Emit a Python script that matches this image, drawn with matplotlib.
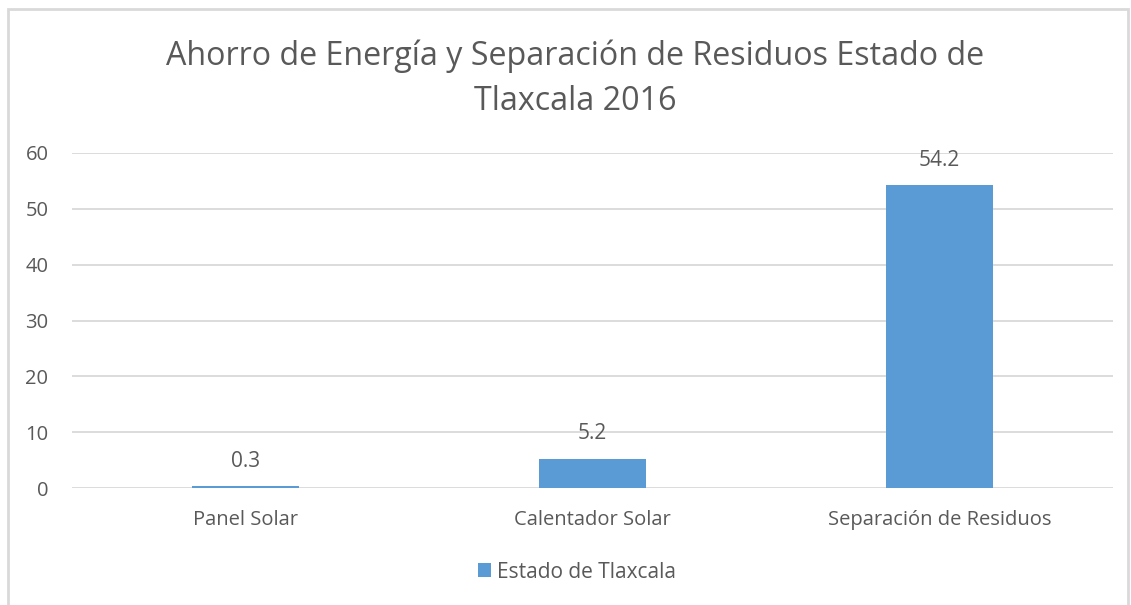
import matplotlib.pyplot as plt
from matplotlib.patches import Rectangle

categories = ['Panel Solar', 'Calentador Solar', 'Separación de Residuos']
values = [0.3, 5.2, 54.2]
series_name = 'Estado de Tlaxcala'
title = 'Ahorro de Energía y Separación de Residuos Estado de\nTlaxcala 2016'
yticks = [0, 10, 20, 30, 40, 50, 60]

text_color = '#595959'
bar_color = '#5B9BD5'
grid_color = '#D9D9D9'

plt.rcParams['font.family'] = ['Open Sans', 'DejaVu Sans']

fig = plt.figure(figsize=(11.31, 6.05), dpi=100)
ax = fig.add_axes([72 / 1131, 1 - 488 / 605, (1113 - 72) / 1131, (488 - 153) / 605])

x = range(len(categories))
bars = ax.bar(x, values, width=0.31, color=bar_color, label=series_name, zorder=3)

for b, v in zip(bars, values):
    ax.annotate(f'{v}', (b.get_x() + b.get_width() / 2, v), xytext=(0, 18),
                textcoords='offset points', ha='center', va='center',
                fontsize=15, color=text_color)

ax.set_xlim(-0.5, len(categories) - 0.5)
ax.set_ylim(0, 60)
ax.set_yticks(yticks)
ax.set_xticks(list(x))
ax.set_xticklabels(categories)
ax.tick_params(axis='both', length=0, labelsize=14.5, colors=text_color)
ax.tick_params(axis='x', pad=16)
ax.tick_params(axis='y', pad=17)
ax.grid(axis='y', color=grid_color, linewidth=1.3, zorder=0)
for s in ax.spines.values():
    s.set_visible(False)

fig.text(575 / 1131, 1 - 79 / 605, title, ha='center', va='center',
         fontsize=23.2, color=text_color, linespacing=1.5)

fig.legend(loc='center', bbox_to_anchor=(577 / 1131, 1 - 572 / 605), frameon=False,
           fontsize=15, labelcolor=text_color, handlelength=0.65, handleheight=0.65,
           handletextpad=0.3)

fig.patches.append(Rectangle((8 / 1131, -0.05), (1128 - 8) / 1131, 1.05 - 9 / 605,
                             transform=fig.transFigure, fill=False,
                             edgecolor=grid_color, linewidth=2))

fig.savefig('out.png', dpi=100)
